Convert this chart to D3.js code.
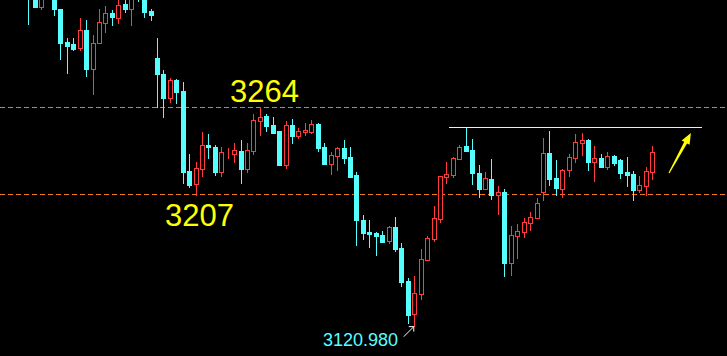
<!DOCTYPE html>
<html>
<head>
<meta charset="utf-8">
<script src="https://cdn.jsdelivr.net/npm/d3@7"></script>
<style>
  html, body { margin: 0; padding: 0; background: #000; }
  svg { display: block; }
</style>
</head>
<body>
<svg id="chart" width="727" height="356"></svg>
<script>
// OHLC, one entry per candle (left to right)
const opens = [3354.0, 3340.9, 3329.9, 3336.3, 3337.6, 3328.4, 3307.0, 3305.7, 3303.0, 3314.6,
  3289.1, 3306.3, 3319.4, 3325.6, 3322.7, 3331.7, 3328.6, 3344.1, 3336.9, 3327.1,
  3296.3, 3286.0, 3270.3, 3281.9, 3274.7, 3222.3, 3213.7, 3223.8, 3239.3, 3238.2,
  3221.8, 3234.1, 3233.7, 3235.4, 3223.6, 3235.6, 3255.2, 3258.3, 3252.4, 3248.5,
  3226.4, 3252.4, 3245.4, 3248.0, 3248.0, 3253.1, 3238.0, 3227.1, 3232.3, 3237.3,
  3231.4, 3219.6, 3190.2, 3182.3, 3181.6, 3180.3, 3176.6, 3185.6, 3171.8, 3150.2,
  3128.8, 3141.9, 3164.1, 3177.9, 3191.0, 3218.5, 3219.8, 3230.3, 3238.6, 3236.0,
  3221.0, 3210.5, 3217.0, 3206.5, 3208.5, 3162.2, 3179.9, 3182.5, 3188.4, 3191.7,
  3208.7, 3234.1, 3217.7, 3210.7, 3223.1, 3231.0, 3240.8, 3242.6, 3228.4, 3230.8,
  3225.1, 3232.1, 3229.5, 3221.6, 3220.3, 3210.0, 3212.6, 3221.8];
const highs = [3360.5, 3344.1, 3339.5, 3350.7, 3340.9, 3328.4, 3309.6, 3309.6, 3322.5, 3321.2,
  3311.4, 3328.4, 3330.4, 3327.7, 3335.6, 3334.9, 3339.5, 3347.4, 3339.5, 3328.4,
  3309.4, 3288.4, 3283.0, 3282.5, 3280.6, 3233.4, 3228.2, 3247.8, 3246.5, 3239.3,
  3238.0, 3237.3, 3240.6, 3242.6, 3240.6, 3259.6, 3264.0, 3259.6, 3257.4, 3248.5,
  3255.0, 3256.3, 3250.2, 3253.7, 3255.7, 3253.7, 3240.6, 3234.5, 3237.8, 3242.6,
  3238.0, 3221.6, 3193.4, 3190.2, 3182.3, 3182.9, 3186.4, 3192.1, 3175.1, 3152.2,
  3153.7, 3171.2, 3179.7, 3199.3, 3219.0, 3228.2, 3231.4, 3239.3, 3251.1, 3243.2,
  3226.2, 3221.6, 3230.1, 3212.4, 3210.5, 3186.2, 3187.5, 3191.5, 3195.4, 3204.6,
  3243.9, 3248.5, 3229.5, 3223.6, 3233.4, 3246.5, 3247.2, 3243.2, 3238.6, 3233.4,
  3234.7, 3232.7, 3230.1, 3231.4, 3222.3, 3219.0, 3224.9, 3238.6];
const lows = [3318.4, 3329.6, 3328.6, 3335.0, 3324.7, 3295.8, 3286.7, 3301.7, 3301.7, 3284.7,
  3272.9, 3306.3, 3313.5, 3317.9, 3319.4, 3326.4, 3318.1, 3333.6, 3323.4, 3321.2,
  3264.4, 3257.8, 3267.7, 3267.0, 3214.6, 3212.0, 3206.5, 3219.2, 3230.8, 3219.8,
  3219.2, 3230.8, 3228.2, 3214.6, 3221.6, 3233.4, 3246.0, 3248.7, 3247.4, 3226.4,
  3224.4, 3240.8, 3244.1, 3246.0, 3247.4, 3235.6, 3226.8, 3220.5, 3223.1, 3227.7,
  3218.5, 3174.0, 3177.9, 3172.7, 3167.4, 3175.9, 3175.3, 3170.0, 3147.1, 3122.9,
  3120.98, 3138.6, 3164.1, 3176.6, 3189.0, 3214.6, 3218.5, 3230.3, 3235.6, 3213.7,
  3205.4, 3210.5, 3203.9, 3194.1, 3153.5, 3154.1, 3165.3, 3179.2, 3183.6, 3191.7,
  3203.5, 3213.1, 3206.5, 3205.2, 3219.2, 3228.4, 3232.9, 3223.1, 3215.9, 3225.1,
  3223.8, 3226.4, 3217.9, 3212.6, 3203.3, 3208.7, 3206.7, 3217.2];
const closes = [3336.3, 3329.9, 3337.6, 3347.4, 3328.4, 3306.3, 3304.2, 3302.4, 3314.6, 3289.1,
  3306.1, 3319.9, 3325.6, 3323.4, 3330.8, 3328.4, 3336.3, 3336.9, 3326.4, 3324.5,
  3286.0, 3270.1, 3281.9, 3274.0, 3221.8, 3213.1, 3224.2, 3239.3, 3238.0, 3221.6,
  3234.5, 3234.4, 3235.8, 3223.6, 3236.0, 3255.7, 3257.6, 3251.9, 3247.4, 3226.4,
  3252.4, 3245.4, 3248.3, 3249.1, 3252.9, 3237.5, 3227.1, 3232.5, 3237.1, 3231.0,
  3218.5, 3190.4, 3181.8, 3181.2, 3179.9, 3175.9, 3185.6, 3171.4, 3149.7, 3128.1,
  3142.3, 3164.6, 3178.4, 3191.5, 3219.0, 3220.3, 3230.8, 3238.0, 3235.6, 3221.0,
  3210.5, 3217.7, 3206.5, 3208.5, 3162.0, 3180.3, 3182.9, 3188.8, 3192.1, 3201.3,
  3234.1, 3217.0, 3211.1, 3222.9, 3231.4, 3241.3, 3242.6, 3228.4, 3230.8, 3225.1,
  3232.1, 3227.5, 3221.0, 3219.6, 3210.0, 3213.1, 3222.3, 3234.7];

// levels and labels
const levels = [3264, 3207];
const levelLabels = ['3264', '3207'];
const resistance = 3251.1;
const lowIndex = 60;
const lowLabel = '3120.980';

const upColor = '#ff3b3b';
const downColor = '#55ffff';

var Chart = function() {

    var build = function() {
        const width = 727, height = 356;
        const svg = d3.select('#chart');
        const n = opens.length;

        const candles = d3.range(n).map((i) => ({
            i: i, o: opens[i], h: highs[i], l: lows[i], c: closes[i]
        }));

        // x runs past the last candle so the annotations can sit there
        const xScale = d3.scaleLinear()
            .domain([0, n - 1])
            .range([28.3, 652.3]);
        const yScale = d3.scaleLinear()
            .domain([3101.1, 3334.3])
            .range([height, 0]);

        const cx = (d) => Math.round(xScale(d.i));
        const py = (v) => Math.round(yScale(v));

        svg.append('rect')
            .attr('width', width).attr('height', height)
            .attr('fill', '#000');

        // dashed levels
        svg.selectAll('line.level')
            .data(levels)
            .enter()
            .append('line')
            .attr('class', 'level')
            .attr('x1', 0).attr('x2', width)
            .attr('y1', (d) => py(d) + 0.5)
            .attr('y2', (d) => py(d) + 0.5)
            .attr('stroke', '#f07820')
            .attr('stroke-width', 1)
            .attr('stroke-dasharray', '5,3');

        const plot = svg.append('g');

        // wicks
        plot.selectAll('line.wick')
            .data(candles)
            .enter()
            .append('line')
            .attr('class', 'wick')
            .attr('x1', (d) => cx(d) + 0.5)
            .attr('x2', (d) => cx(d) + 0.5)
            .attr('y1', (d) => py(d.h))
            .attr('y2', (d) => py(d.l) + 1)
            .attr('stroke', (d) => d.c >= d.o ? upColor : downColor)
            .attr('stroke-width', 1);

        // falling candles: filled cyan
        plot.selectAll('rect.down')
            .data(candles.filter((d) => d.c < d.o))
            .enter()
            .append('rect')
            .attr('class', 'down')
            .attr('x', (d) => cx(d) - 2)
            .attr('y', (d) => py(d.o))
            .attr('width', 5)
            .attr('height', (d) => Math.max(1, py(d.c) - py(d.o) + 1))
            .attr('fill', downColor);

        // rising candles: hollow red
        plot.selectAll('rect.up')
            .data(candles.filter((d) => d.c >= d.o))
            .enter()
            .append('rect')
            .attr('class', 'up')
            .attr('x', (d) => cx(d) - 1.5)
            .attr('y', (d) => py(d.c) + 0.5)
            .attr('width', 4)
            .attr('height', (d) => Math.max(0, py(d.o) - py(d.c)))
            .attr('fill', '#000')
            .attr('stroke', upColor)
            .attr('stroke-width', 1);

        // resistance line
        svg.append('line')
            .attr('x1', Math.round(xScale(65.4)))
            .attr('x2', Math.round(xScale(104.8)))
            .attr('y1', py(resistance) + 0.5)
            .attr('y2', py(resistance) + 0.5)
            .attr('stroke', '#ffff60')
            .attr('stroke-width', 1);

        // yellow arrow pointing up and right
        const tail = [xScale(99.6), yScale(3221.0)];
        const tip = [xScale(103.0), yScale(3247.2)];
        const dx = tip[0] - tail[0], dy = tip[1] - tail[1];
        const len = Math.sqrt(dx * dx + dy * dy);
        const ux = dx / len, uy = dy / len, nx = -uy, ny = ux;
        const headLen = 11, headW = 4.5;
        const base = [tip[0] - ux * headLen, tip[1] - uy * headLen];
        const arrow = d3.path();
        arrow.moveTo(tail[0] - nx * 0.6, tail[1] - ny * 0.6);
        arrow.lineTo(base[0] - nx * 1.6, base[1] - ny * 1.6);
        arrow.lineTo(base[0] - nx * headW, base[1] - ny * headW);
        arrow.lineTo(tip[0], tip[1]);
        arrow.lineTo(base[0] + nx * headW, base[1] + ny * headW);
        arrow.lineTo(base[0] + nx * 1.6, base[1] + ny * 1.6);
        arrow.lineTo(tail[0] + nx * 0.6, tail[1] + ny * 0.6);
        arrow.closePath();
        svg.append('path')
            .attr('d', arrow.toString())
            .attr('fill', '#ffff00');

        // level labels
        svg.append('text')
            .attr('x', 230)
            .attr('y', py(levels[0]) - 5)
            .attr('fill', '#ffff00')
            .attr('font-family', 'Liberation Sans, Arial, sans-serif')
            .attr('font-size', 31)
            .text(levelLabels[0]);

        svg.append('text')
            .attr('x', 165)
            .attr('y', py(levels[1]) + 32)
            .attr('fill', '#ffff00')
            .attr('font-family', 'Liberation Sans, Arial, sans-serif')
            .attr('font-size', 31)
            .text(levelLabels[1]);

        // low marker
        const lowX = xScale(lowIndex) - 0.5, lowY = yScale(lows[lowIndex]) + 1;
        svg.append('line')
            .attr('x1', lowX - 10).attr('y1', lowY + 10)
            .attr('x2', lowX).attr('y2', lowY)
            .attr('stroke', '#fff').attr('stroke-width', 1);
        svg.append('path')
            .attr('d', `M${lowX - 5},${lowY}L${lowX},${lowY}L${lowX},${lowY + 5}`)
            .attr('fill', 'none')
            .attr('stroke', '#fff').attr('stroke-width', 1);

        svg.append('text')
            .attr('x', 323)
            .attr('y', 346)
            .attr('fill', '#55ffff')
            .attr('font-family', 'Liberation Sans, Arial, sans-serif')
            .attr('font-size', 18)
            .text(lowLabel);
    };

    return {
        init: function() {
            build();
        }
    };
}();

document.addEventListener('DOMContentLoaded', function() {
    Chart.init();
});
</script>
</body>
</html>
